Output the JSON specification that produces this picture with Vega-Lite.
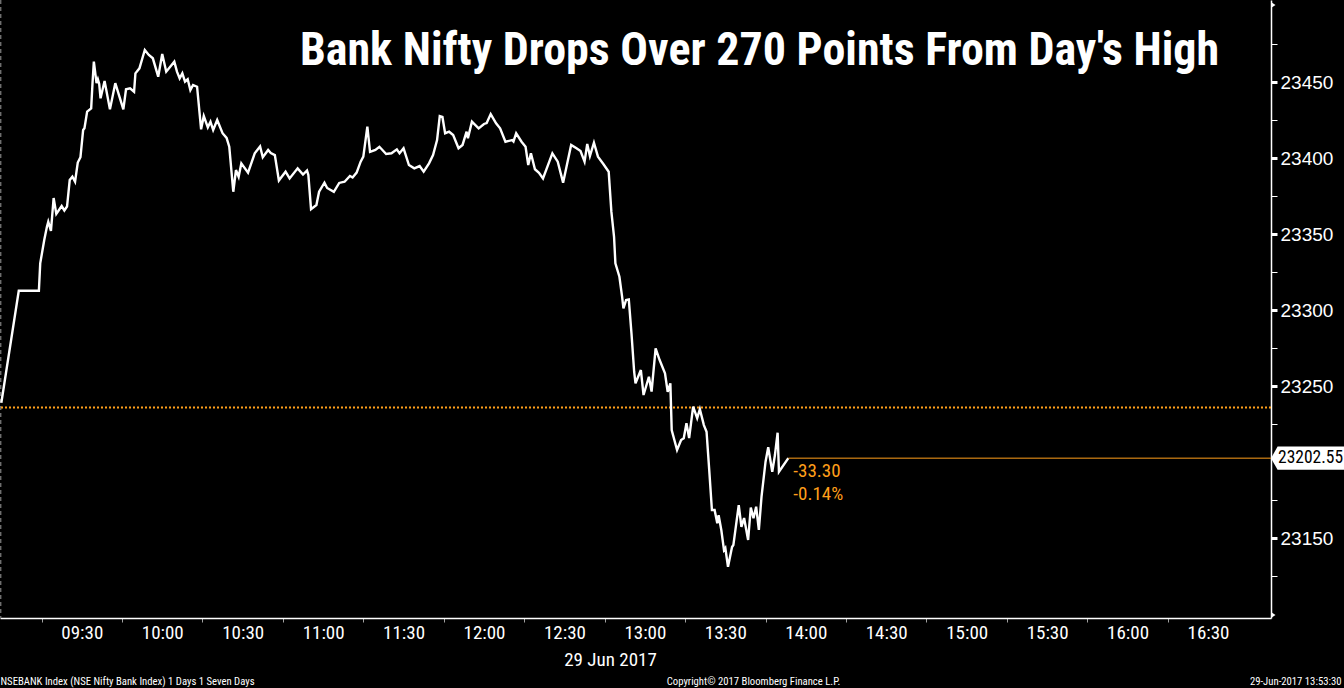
{
  "$schema": "https://vega.github.io/schema/vega-lite/v6.json",
  "width": 1271,
  "height": 618,
  "autosize": {"type": "none"},
  "padding": {"left": 0, "top": 0, "right": 73, "bottom": 70},
  "background": "black",
  "config": {"view": {"stroke": null}, "axis": {"grid": false}},
  "title": {
    "text": "Bank Nifty Drops Over 270 Points From Day's High",
    "orient": "top", "anchor": "start", "frame": "group", "offset": 0,
    "dx": 300, "dy": 112, "baseline": "alphabetic",
    "font": "Roboto Condensed, Liberation Sans Narrow, DejaVu Sans Condensed, sans-serif",
    "fontSize": 46, "fontWeight": "bold", "color": "white"
  },
  "datasets": {
    "price": [
      {"t": "2017-06-29T09:00:00", "v": 23239},
      {"t": "2017-06-29T09:06:30", "v": 23312.7},
      {"t": "2017-06-29T09:14:00", "v": 23312.7},
      {"t": "2017-06-29T09:14:30", "v": 23330.7},
      {"t": "2017-06-29T09:16:00", "v": 23346.1},
      {"t": "2017-06-29T09:17:00", "v": 23354.8},
      {"t": "2017-06-29T09:17:30", "v": 23358.1},
      {"t": "2017-06-29T09:18:30", "v": 23352.0},
      {"t": "2017-06-29T09:19:30", "v": 23373.7},
      {"t": "2017-06-29T09:20:30", "v": 23363.2},
      {"t": "2017-06-29T09:22:30", "v": 23368.4},
      {"t": "2017-06-29T09:23:30", "v": 23365.5},
      {"t": "2017-06-29T09:24:30", "v": 23368.1},
      {"t": "2017-06-29T09:25:30", "v": 23385.5},
      {"t": "2017-06-29T09:26:30", "v": 23387.7},
      {"t": "2017-06-29T09:27:30", "v": 23384.4},
      {"t": "2017-06-29T09:28:30", "v": 23397.0},
      {"t": "2017-06-29T09:29:30", "v": 23400.5},
      {"t": "2017-06-29T09:30:30", "v": 23418.4},
      {"t": "2017-06-29T09:31:00", "v": 23419.6},
      {"t": "2017-06-29T09:32:00", "v": 23430.5},
      {"t": "2017-06-29T09:33:30", "v": 23432.7},
      {"t": "2017-06-29T09:34:00", "v": 23449.2},
      {"t": "2017-06-29T09:34:30", "v": 23463.4},
      {"t": "2017-06-29T09:35:30", "v": 23449.2},
      {"t": "2017-06-29T09:36:00", "v": 23451.8},
      {"t": "2017-06-29T09:36:30", "v": 23448.7},
      {"t": "2017-06-29T09:37:00", "v": 23439.3},
      {"t": "2017-06-29T09:38:30", "v": 23450.7},
      {"t": "2017-06-29T09:40:30", "v": 23432.0},
      {"t": "2017-06-29T09:42:30", "v": 23449.2},
      {"t": "2017-06-29T09:45:30", "v": 23432.0},
      {"t": "2017-06-29T09:46:30", "v": 23445.2},
      {"t": "2017-06-29T09:48:00", "v": 23445.9},
      {"t": "2017-06-29T09:49:30", "v": 23443.6},
      {"t": "2017-06-29T09:50:00", "v": 23455.7},
      {"t": "2017-06-29T09:51:30", "v": 23459.0},
      {"t": "2017-06-29T09:53:30", "v": 23471.1},
      {"t": "2017-06-29T09:55:00", "v": 23467.8},
      {"t": "2017-06-29T09:56:30", "v": 23465.6},
      {"t": "2017-06-29T09:58:30", "v": 23453.5},
      {"t": "2017-06-29T10:00:00", "v": 23468.4},
      {"t": "2017-06-29T10:01:30", "v": 23456.8},
      {"t": "2017-06-29T10:04:30", "v": 23463.4},
      {"t": "2017-06-29T10:05:30", "v": 23456.8},
      {"t": "2017-06-29T10:06:30", "v": 23452.4},
      {"t": "2017-06-29T10:07:30", "v": 23455.7},
      {"t": "2017-06-29T10:08:30", "v": 23450.2},
      {"t": "2017-06-29T10:09:30", "v": 23451.8},
      {"t": "2017-06-29T10:10:30", "v": 23444.7},
      {"t": "2017-06-29T10:11:30", "v": 23448.0},
      {"t": "2017-06-29T10:13:00", "v": 23446.9},
      {"t": "2017-06-29T10:14:30", "v": 23418.9},
      {"t": "2017-06-29T10:15:30", "v": 23427.6},
      {"t": "2017-06-29T10:17:00", "v": 23420.2},
      {"t": "2017-06-29T10:18:00", "v": 23423.9},
      {"t": "2017-06-29T10:19:00", "v": 23418.4},
      {"t": "2017-06-29T10:20:30", "v": 23425.0},
      {"t": "2017-06-29T10:22:30", "v": 23416.3},
      {"t": "2017-06-29T10:24:00", "v": 23413.2},
      {"t": "2017-06-29T10:25:00", "v": 23407.4},
      {"t": "2017-06-29T10:26:30", "v": 23377.8},
      {"t": "2017-06-29T10:27:30", "v": 23392.1},
      {"t": "2017-06-29T10:28:30", "v": 23387.7},
      {"t": "2017-06-29T10:29:30", "v": 23396.5},
      {"t": "2017-06-29T10:32:00", "v": 23390.3},
      {"t": "2017-06-29T10:34:30", "v": 23403.1},
      {"t": "2017-06-29T10:36:30", "v": 23407.6},
      {"t": "2017-06-29T10:37:30", "v": 23400.5},
      {"t": "2017-06-29T10:39:30", "v": 23405.3},
      {"t": "2017-06-29T10:40:30", "v": 23403.3},
      {"t": "2017-06-29T10:42:00", "v": 23401.9},
      {"t": "2017-06-29T10:43:30", "v": 23385.2},
      {"t": "2017-06-29T10:46:00", "v": 23391.0},
      {"t": "2017-06-29T10:47:30", "v": 23386.6},
      {"t": "2017-06-29T10:50:30", "v": 23393.2},
      {"t": "2017-06-29T10:52:30", "v": 23389.1},
      {"t": "2017-06-29T10:54:00", "v": 23391.8},
      {"t": "2017-06-29T10:54:30", "v": 23388.8},
      {"t": "2017-06-29T10:55:30", "v": 23366.3},
      {"t": "2017-06-29T10:57:30", "v": 23369.1},
      {"t": "2017-06-29T10:58:30", "v": 23377.8},
      {"t": "2017-06-29T11:00:30", "v": 23383.8},
      {"t": "2017-06-29T11:01:30", "v": 23380.3},
      {"t": "2017-06-29T11:04:00", "v": 23377.8},
      {"t": "2017-06-29T11:06:00", "v": 23383.6},
      {"t": "2017-06-29T11:08:00", "v": 23384.4},
      {"t": "2017-06-29T11:10:00", "v": 23388.2},
      {"t": "2017-06-29T11:11:00", "v": 23387.2},
      {"t": "2017-06-29T11:12:30", "v": 23390.4},
      {"t": "2017-06-29T11:14:00", "v": 23397.6},
      {"t": "2017-06-29T11:15:00", "v": 23400.9},
      {"t": "2017-06-29T11:16:30", "v": 23420.6},
      {"t": "2017-06-29T11:17:30", "v": 23404.1},
      {"t": "2017-06-29T11:19:30", "v": 23405.3},
      {"t": "2017-06-29T11:21:00", "v": 23407.4},
      {"t": "2017-06-29T11:23:30", "v": 23402.6},
      {"t": "2017-06-29T11:25:30", "v": 23403.1},
      {"t": "2017-06-29T11:27:30", "v": 23405.7},
      {"t": "2017-06-29T11:28:30", "v": 23403.1},
      {"t": "2017-06-29T11:30:00", "v": 23406.4},
      {"t": "2017-06-29T11:32:00", "v": 23395.4},
      {"t": "2017-06-29T11:34:00", "v": 23393.2},
      {"t": "2017-06-29T11:36:00", "v": 23394.7},
      {"t": "2017-06-29T11:37:30", "v": 23391.0},
      {"t": "2017-06-29T11:39:30", "v": 23396.5},
      {"t": "2017-06-29T11:41:00", "v": 23401.9},
      {"t": "2017-06-29T11:42:30", "v": 23411.8},
      {"t": "2017-06-29T11:43:30", "v": 23427.6},
      {"t": "2017-06-29T11:44:30", "v": 23427.0},
      {"t": "2017-06-29T11:45:30", "v": 23416.3},
      {"t": "2017-06-29T11:47:00", "v": 23417.3},
      {"t": "2017-06-29T11:48:30", "v": 23415.1},
      {"t": "2017-06-29T11:50:30", "v": 23406.4},
      {"t": "2017-06-29T11:52:00", "v": 23408.6},
      {"t": "2017-06-29T11:53:30", "v": 23417.3},
      {"t": "2017-06-29T11:54:00", "v": 23413.0},
      {"t": "2017-06-29T11:55:30", "v": 23423.9},
      {"t": "2017-06-29T11:58:00", "v": 23419.5},
      {"t": "2017-06-29T12:00:00", "v": 23422.4},
      {"t": "2017-06-29T12:01:00", "v": 23423.0},
      {"t": "2017-06-29T12:02:30", "v": 23428.9},
      {"t": "2017-06-29T12:04:30", "v": 23422.8},
      {"t": "2017-06-29T12:06:00", "v": 23419.5},
      {"t": "2017-06-29T12:08:00", "v": 23410.7},
      {"t": "2017-06-29T12:10:30", "v": 23411.8},
      {"t": "2017-06-29T12:11:00", "v": 23410.9},
      {"t": "2017-06-29T12:12:00", "v": 23416.3},
      {"t": "2017-06-29T12:14:00", "v": 23410.7},
      {"t": "2017-06-29T12:15:30", "v": 23407.4},
      {"t": "2017-06-29T12:16:30", "v": 23395.4},
      {"t": "2017-06-29T12:17:30", "v": 23403.1},
      {"t": "2017-06-29T12:19:00", "v": 23392.6},
      {"t": "2017-06-29T12:20:30", "v": 23390.3},
      {"t": "2017-06-29T12:22:00", "v": 23386.6},
      {"t": "2017-06-29T12:25:30", "v": 23403.1},
      {"t": "2017-06-29T12:27:30", "v": 23397.6},
      {"t": "2017-06-29T12:29:30", "v": 23383.8},
      {"t": "2017-06-29T12:32:30", "v": 23408.6},
      {"t": "2017-06-29T12:34:30", "v": 23406.4},
      {"t": "2017-06-29T12:36:00", "v": 23404.6},
      {"t": "2017-06-29T12:37:30", "v": 23397.6},
      {"t": "2017-06-29T12:38:30", "v": 23409.2},
      {"t": "2017-06-29T12:39:30", "v": 23401.3},
      {"t": "2017-06-29T12:41:00", "v": 23410.1},
      {"t": "2017-06-29T12:42:30", "v": 23400.9},
      {"t": "2017-06-29T12:44:30", "v": 23396.1},
      {"t": "2017-06-29T12:46:30", "v": 23391.0},
      {"t": "2017-06-29T12:47:30", "v": 23364.7},
      {"t": "2017-06-29T12:48:30", "v": 23348.2},
      {"t": "2017-06-29T12:49:00", "v": 23330.7},
      {"t": "2017-06-29T12:50:30", "v": 23321.9},
      {"t": "2017-06-29T12:51:30", "v": 23308.8},
      {"t": "2017-06-29T12:52:00", "v": 23301.1},
      {"t": "2017-06-29T12:53:00", "v": 23306.6},
      {"t": "2017-06-29T12:54:00", "v": 23307.0},
      {"t": "2017-06-29T12:55:00", "v": 23284.7},
      {"t": "2017-06-29T12:56:00", "v": 23259.4},
      {"t": "2017-06-29T12:56:30", "v": 23251.8},
      {"t": "2017-06-29T12:58:30", "v": 23260.5},
      {"t": "2017-06-29T12:59:30", "v": 23244.1},
      {"t": "2017-06-29T13:01:30", "v": 23256.1},
      {"t": "2017-06-29T13:02:30", "v": 23246.3},
      {"t": "2017-06-29T13:04:00", "v": 23274.8},
      {"t": "2017-06-29T13:05:30", "v": 23267.1},
      {"t": "2017-06-29T13:07:30", "v": 23258.4},
      {"t": "2017-06-29T13:08:30", "v": 23246.2},
      {"t": "2017-06-29T13:09:30", "v": 23251.8},
      {"t": "2017-06-29T13:10:00", "v": 23221.1},
      {"t": "2017-06-29T13:12:00", "v": 23207.9},
      {"t": "2017-06-29T13:13:30", "v": 23214.5},
      {"t": "2017-06-29T13:14:30", "v": 23215.6},
      {"t": "2017-06-29T13:15:30", "v": 23225.5},
      {"t": "2017-06-29T13:16:30", "v": 23215.8},
      {"t": "2017-06-29T13:18:00", "v": 23236.4},
      {"t": "2017-06-29T13:19:30", "v": 23228.9},
      {"t": "2017-06-29T13:20:30", "v": 23234.7},
      {"t": "2017-06-29T13:22:00", "v": 23224.3},
      {"t": "2017-06-29T13:23:00", "v": 23219.9},
      {"t": "2017-06-29T13:24:00", "v": 23194.7},
      {"t": "2017-06-29T13:25:00", "v": 23168.4},
      {"t": "2017-06-29T13:26:00", "v": 23168.4},
      {"t": "2017-06-29T13:27:00", "v": 23159.7},
      {"t": "2017-06-29T13:27:30", "v": 23165.1},
      {"t": "2017-06-29T13:28:30", "v": 23155.3},
      {"t": "2017-06-29T13:29:30", "v": 23142.1},
      {"t": "2017-06-29T13:30:00", "v": 23143.4},
      {"t": "2017-06-29T13:31:00", "v": 23131.1},
      {"t": "2017-06-29T13:32:30", "v": 23144.1},
      {"t": "2017-06-29T13:33:00", "v": 23145.4},
      {"t": "2017-06-29T13:35:00", "v": 23171.7},
      {"t": "2017-06-29T13:36:00", "v": 23157.4},
      {"t": "2017-06-29T13:37:00", "v": 23163.2},
      {"t": "2017-06-29T13:38:30", "v": 23148.7},
      {"t": "2017-06-29T13:39:30", "v": 23170.1},
      {"t": "2017-06-29T13:40:30", "v": 23163.0},
      {"t": "2017-06-29T13:41:30", "v": 23170.6},
      {"t": "2017-06-29T13:42:30", "v": 23155.3},
      {"t": "2017-06-29T13:43:30", "v": 23177.2},
      {"t": "2017-06-29T13:45:00", "v": 23200.2},
      {"t": "2017-06-29T13:46:00", "v": 23209.7},
      {"t": "2017-06-29T13:47:30", "v": 23193.6},
      {"t": "2017-06-29T13:48:30", "v": 23204.6},
      {"t": "2017-06-29T13:49:30", "v": 23219.3},
      {"t": "2017-06-29T13:50:00", "v": 23193.6},
      {"t": "2017-06-29T13:53:30", "v": 23202.55}
    ]
  },
  "layer": [
    {
      "data": {"values": [{}]},
      "mark": {"type": "rule", "color": "#6e6e6e", "strokeDash": [4, 3], "strokeWidth": 1.5},
      "encoding": {
        "x": {
          "datum": {"year": 2017, "month": 6, "date": 29, "hours": 8, "minutes": 59, "seconds": 45},
          "type": "temporal",
          "scale": {"domain": [{"year": 2017, "month": 6, "date": 29, "hours": 8, "minutes": 59, "seconds": 30}, {"year": 2017, "month": 6, "date": 29, "hours": 16, "minutes": 53, "seconds": 30}], "nice": false},
          "axis": {
            "orient": "bottom",
            "values": [
              {"year": 2017, "month": 6, "date": 29, "hours": 9, "minutes": 15},
              {"year": 2017, "month": 6, "date": 29, "hours": 9, "minutes": 45},
              {"year": 2017, "month": 6, "date": 29, "hours": 10, "minutes": 15},
              {"year": 2017, "month": 6, "date": 29, "hours": 10, "minutes": 45},
              {"year": 2017, "month": 6, "date": 29, "hours": 11, "minutes": 15},
              {"year": 2017, "month": 6, "date": 29, "hours": 11, "minutes": 45},
              {"year": 2017, "month": 6, "date": 29, "hours": 12, "minutes": 15},
              {"year": 2017, "month": 6, "date": 29, "hours": 12, "minutes": 45},
              {"year": 2017, "month": 6, "date": 29, "hours": 13, "minutes": 15},
              {"year": 2017, "month": 6, "date": 29, "hours": 13, "minutes": 45},
              {"year": 2017, "month": 6, "date": 29, "hours": 14, "minutes": 15},
              {"year": 2017, "month": 6, "date": 29, "hours": 14, "minutes": 45},
              {"year": 2017, "month": 6, "date": 29, "hours": 15, "minutes": 15},
              {"year": 2017, "month": 6, "date": 29, "hours": 15, "minutes": 45},
              {"year": 2017, "month": 6, "date": 29, "hours": 16, "minutes": 15}
            ],
            "labels": false, "domain": false, "ticks": true,
            "tickColor": "#a0a0a0", "tickSize": 4, "tickWidth": 1,
            "title": "NSEBANK Index (NSE Nifty Bank Index) 1 Days 1 Seven Days",
            "titleX": 0, "titleY": 66, "titleAlign": "left", "titleBaseline": "alphabetic",
            "titleColor": "white", "titleFont": "Roboto Condensed, Liberation Sans Narrow, DejaVu Sans Condensed, sans-serif",
            "titleFontSize": 10.7, "titleFontWeight": "normal"
          }
        }
      }
    },
    {
      "data": {"values": [{}]},
      "mark": {"type": "rule", "color": "#ff9f1a", "strokeDash": [2, 2], "strokeWidth": 2},
      "encoding": {
        "y": {
          "datum": 23235.85, "type": "quantitative",
          "scale": {"domain": [23097.4, 23503.95], "nice": false, "zero": false},
          "axis": {
            "orient": "right", "labels": false, "ticks": false, "domain": false,
            "title": "Copyright© 2017 Bloomberg Finance L.P.",
            "titleAngle": 0, "titleX": -518, "titleY": 684, "titleAlign": "center", "titleBaseline": "alphabetic",
            "titleColor": "white", "titleFont": "Roboto Condensed, Liberation Sans Narrow, DejaVu Sans Condensed, sans-serif",
            "titleFontSize": 10.7, "titleFontWeight": "normal"
          }
        }
      }
    },
    {
      "data": {"name": "price"},
      "mark": {"type": "line", "color": "white", "strokeWidth": 2.4},
      "encoding": {
        "x": {
          "field": "t", "type": "temporal",
          "scale": {"domain": [{"year": 2017, "month": 6, "date": 29, "hours": 8, "minutes": 59, "seconds": 30}, {"year": 2017, "month": 6, "date": 29, "hours": 16, "minutes": 53, "seconds": 30}], "nice": false},
          "axis": {
            "orient": "bottom",
            "values": [
              {"year": 2017, "month": 6, "date": 29, "hours": 9, "minutes": 30},
              {"year": 2017, "month": 6, "date": 29, "hours": 10, "minutes": 0},
              {"year": 2017, "month": 6, "date": 29, "hours": 10, "minutes": 30},
              {"year": 2017, "month": 6, "date": 29, "hours": 11, "minutes": 0},
              {"year": 2017, "month": 6, "date": 29, "hours": 11, "minutes": 30},
              {"year": 2017, "month": 6, "date": 29, "hours": 12, "minutes": 0},
              {"year": 2017, "month": 6, "date": 29, "hours": 12, "minutes": 30},
              {"year": 2017, "month": 6, "date": 29, "hours": 13, "minutes": 0},
              {"year": 2017, "month": 6, "date": 29, "hours": 13, "minutes": 30},
              {"year": 2017, "month": 6, "date": 29, "hours": 14, "minutes": 0},
              {"year": 2017, "month": 6, "date": 29, "hours": 14, "minutes": 30},
              {"year": 2017, "month": 6, "date": 29, "hours": 15, "minutes": 0},
              {"year": 2017, "month": 6, "date": 29, "hours": 15, "minutes": 30},
              {"year": 2017, "month": 6, "date": 29, "hours": 16, "minutes": 0},
              {"year": 2017, "month": 6, "date": 29, "hours": 16, "minutes": 30}
            ],
            "format": "%H:%M", "ticks": false, "tickSize": 0,
            "labelColor": "white", "labelFont": "Roboto Condensed, Liberation Sans Narrow, DejaVu Sans Condensed, sans-serif",
            "labelFontSize": 19, "labelPadding": 5, "labelFlush": false, "labelOverlap": false,
            "domainColor": "white", "domainWidth": 1.5,
            "title": "29 Jun 2017", "titleX": 610, "titleY": 47, "titleAlign": "center", "titleBaseline": "alphabetic",
            "titleColor": "white", "titleFont": "Roboto Condensed, Liberation Sans Narrow, DejaVu Sans Condensed, sans-serif",
            "titleFontSize": 19, "titleFontWeight": "normal"
          }
        },
        "y": {
          "field": "v", "type": "quantitative",
          "scale": {"domain": [23097.4, 23503.95], "nice": false, "zero": false},
          "axis": {
            "orient": "right",
            "values": [23125, 23150, 23175, 23225, 23250, 23275, 23300, 23325, 23350, 23375, 23400, 23425, 23450, 23475],
            "format": "d",
            "labelExpr": "datum.value % 50 == 0 ? datum.label : ''",
            "labelColor": "white", "labelFont": "Liberation Sans, Arial, sans-serif", "labelFontSize": 19,
            "labelPadding": 3, "labelBaseline": "middle", "labelFlush": false, "labelOverlap": false,
            "tickColor": "white", "tickSize": 6,
            "tickWidth": {"condition": {"test": "datum.value % 50 == 0", "value": 3}, "value": 1},
            "domainColor": "white", "domainWidth": 1.5,
            "title": "29-Jun-2017 13:53:30",
            "titleAngle": 0, "titleX": 70, "titleY": 684, "titleAlign": "right", "titleBaseline": "alphabetic",
            "titleColor": "white", "titleFont": "Roboto Condensed, Liberation Sans Narrow, DejaVu Sans Condensed, sans-serif",
            "titleFontSize": 10.7, "titleFontWeight": "normal"
          }
        }
      }
    },
    {
      "data": {"values": [{}]},
      "mark": {"type": "rule", "color": "#ff9f1a", "strokeWidth": 1},
      "encoding": {
        "x": {"datum": {"year": 2017, "month": 6, "date": 29, "hours": 13, "minutes": 53, "seconds": 30}, "type": "temporal", "axis": null},
        "x2": {"datum": {"year": 2017, "month": 6, "date": 29, "hours": 16, "minutes": 53, "seconds": 30}},
        "y": {"datum": 23202.55, "type": "quantitative", "axis": null}
      }
    },
    {
      "data": {"values": [{}]},
      "mark": {"type": "point", "shape": "M0,-1 L1.5,0 L0,1 Z", "size": 36, "filled": true, "color": "white", "opacity": 1, "strokeWidth": 0},
      "encoding": {
        "x": {"datum": {"year": 2017, "month": 6, "date": 29, "hours": 16, "minutes": 53, "seconds": 30}, "type": "temporal", "axis": null},
        "y": {"datum": 23500.6, "type": "quantitative", "axis": null}
      }
    },
    {
      "data": {"values": [{}]},
      "mark": {"type": "point", "shape": "M0,-1 L1.5,0 L0,1 Z", "size": 36, "filled": true, "color": "white", "opacity": 1, "strokeWidth": 0},
      "encoding": {
        "x": {"datum": {"year": 2017, "month": 6, "date": 29, "hours": 16, "minutes": 53, "seconds": 30}, "type": "temporal", "axis": null},
        "y": {"datum": 23099.3, "type": "quantitative", "axis": null}
      }
    },
    {
      "data": {"values": [{}]},
      "mark": {"type": "point", "shape": "M0,0 L0.18,-0.32 L2,-0.32 L2,0.32 L0.18,0.32 Z", "size": 5329, "filled": true, "color": "white", "opacity": 1, "strokeWidth": 0},
      "encoding": {
        "x": {"datum": {"year": 2017, "month": 6, "date": 29, "hours": 16, "minutes": 53, "seconds": 30}, "type": "temporal", "axis": null},
        "y": {"datum": 23202.55, "type": "quantitative", "axis": null}
      }
    },
    {
      "data": {"values": [{}]},
      "mark": {"type": "text", "align": "left", "baseline": "middle", "dx": 7, "font": "Roboto Condensed, Liberation Sans Narrow, DejaVu Sans Condensed, sans-serif", "fontSize": 17.5, "color": "black", "text": "23202.55"},
      "encoding": {
        "x": {"datum": {"year": 2017, "month": 6, "date": 29, "hours": 16, "minutes": 53, "seconds": 30}, "type": "temporal", "axis": null},
        "y": {"datum": 23202.55, "type": "quantitative", "axis": null}
      }
    },
    {
      "data": {"values": [{}]},
      "mark": {"type": "text", "align": "left", "baseline": "top", "dx": 5, "dy": 4, "lineHeight": 23, "font": "Roboto Condensed, Liberation Sans Narrow, DejaVu Sans Condensed, sans-serif", "fontSize": 19, "color": "#ff9f1a", "text": ["-33.30", "-0.14%"]},
      "encoding": {
        "x": {"datum": {"year": 2017, "month": 6, "date": 29, "hours": 13, "minutes": 53, "seconds": 30}, "type": "temporal", "axis": null},
        "y": {"datum": 23202.55, "type": "quantitative", "axis": null}
      }
    }
  ],
  "resolve": {"axis": {"x": "independent", "y": "independent"}}
}
